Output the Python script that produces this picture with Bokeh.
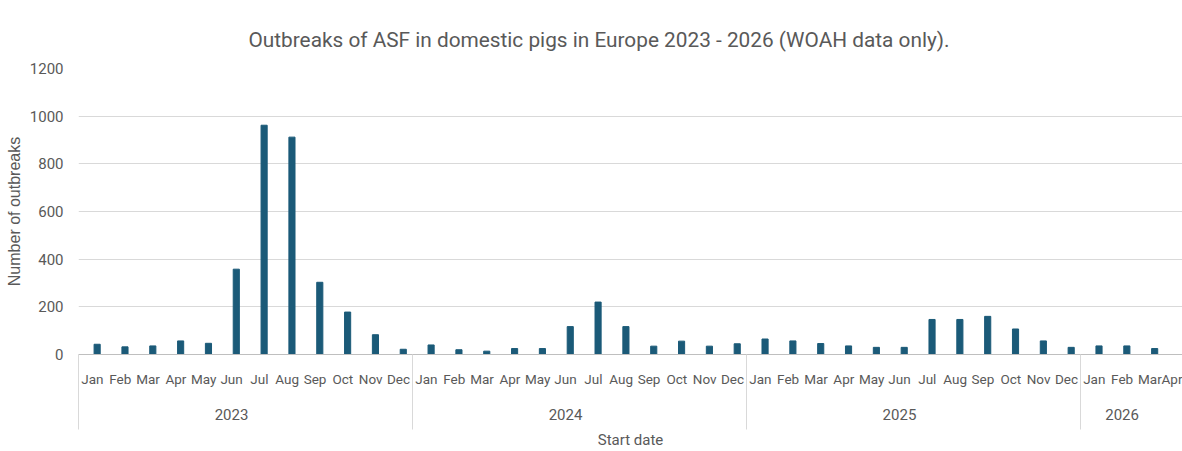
import numpy as np
from bokeh.plotting import figure
from bokeh.models import Range1d, FixedTicker, LinearAxis, ColumnDataSource
from bokeh.embed import file_html
from bokeh.resources import INLINE

years = ["2023", "2024", "2025", "2026"]
months = ["Jan", "Feb", "Mar", "Apr", "May", "Jun", "Jul", "Aug", "Sep", "Oct", "Nov", "Dec"]
outbreaks_2023 = [43, 32, 36, 57, 47, 358, 962, 912, 303, 178, 83, 22]
outbreaks_2024 = [40, 20, 14, 25, 25, 117, 220, 117, 35, 56, 35, 45]
outbreaks_2025 = [65, 57, 46, 36, 30, 30, 147, 147, 160, 107, 57, 30]
outbreaks_2026 = [36, 36, 25, float("nan")]
y_ticks = [0, 200, 400, 600, 800, 1000, 1200]

values = outbreaks_2023 + outbreaks_2024 + outbreaks_2025 + outbreaks_2026
labels = months * 3 + months[:4]
n = len(values)
idx = np.arange(n)
year_sizes = [12, 12, 12, 4]
bounds = list(np.cumsum([0] + year_sizes[:-1]) - 0.5)
year_centers = [b + 5.5 for b in bounds[:3]] + [bounds[3] + 1.5]

GRAY = "#595959"
LINE = "#d9d9d9"
BAR = "#1b5a78"
NARROW = "Roboto"

p = figure(width=1182, height=451, output_backend="svg", toolbar_location=None,
           x_range=Range1d(-0.5, 39.17), y_range=Range1d(0, 1200),
           min_border_left=78, min_border_right=0, min_border_top=68, min_border_bottom=0,
           x_axis_location=None)
p.outline_line_color = None
p.background_fill_color = "white"
p.border_fill_color = "white"

src = ColumnDataSource(dict(x=idx + 0.17, top=values))
p.vbar(x="x", top="top", width=0.22, bottom=0, source=src, color=BAR)

# title
p.title.text = "Outbreaks of ASF in domestic pigs in Europe 2023 - 2026 (WOAH data only)."
p.title.align = "left"
p.title.offset = 170
p.title.text_font = "Roboto"
p.title.text_font_size = "20.8px"
p.title.text_font_style = "normal"
p.title.text_color = GRAY
p.title.standoff = 34

# y axis
ya = p.yaxis[0]
ya.ticker = FixedTicker(ticks=y_ticks)
ya.axis_line_color = None
ya.major_tick_line_color = None
ya.minor_tick_line_color = None
ya.major_label_text_font = NARROW
ya.major_label_text_font_size = "15px"
ya.major_label_text_color = GRAY
ya.major_label_standoff = 9
ya.axis_label = "Number of outbreaks"
ya.axis_label_text_font = "Liberation Sans"
ya.axis_label_text_font_size = "16px"
ya.axis_label_text_font_style = "normal"
ya.axis_label_text_color = GRAY
ya.axis_label_standoff = 4

p.xgrid.grid_line_color = None
p.ygrid.ticker = FixedTicker(ticks=y_ticks)
p.ygrid.grid_line_color = LINE
p.ygrid.grid_line_width = 1

# month axis
ma = LinearAxis(ticker=FixedTicker(ticks=list(idx), minor_ticks=bounds))
ma.major_label_overrides = {int(i): lab for i, lab in zip(idx, labels)}
ma.axis_line_color = "#bfbfbf"
ma.major_tick_line_color = None
ma.minor_tick_line_color = LINE
ma.minor_tick_in = 0
ma.minor_tick_out = 36
ma.major_label_standoff = -20
ma.major_label_text_font = NARROW
ma.major_label_text_font_size = "13.5px"
ma.major_label_text_color = GRAY
p.add_layout(ma, "below")

# year axis
ya2 = LinearAxis(ticker=FixedTicker(ticks=year_centers, minor_ticks=bounds))
ya2.major_label_overrides = {float(c): y for c, y in zip(year_centers, years)}
ya2.axis_line_color = None
ya2.major_tick_line_color = None
ya2.minor_tick_line_color = LINE
ya2.minor_tick_in = 0
ya2.minor_tick_out = 40
ya2.major_label_standoff = -21
ya2.major_label_text_font = NARROW
ya2.major_label_text_font_size = "15px"
ya2.major_label_text_color = GRAY
ya2.axis_label = "Start date"
ya2.axis_label_text_font = NARROW
ya2.axis_label_text_font_size = "15px"
ya2.axis_label_text_font_style = "normal"
ya2.axis_label_text_color = GRAY
ya2.axis_label_standoff = 8
p.add_layout(ya2, "below")

open("out.html", "w").write(file_html(p, INLINE))
